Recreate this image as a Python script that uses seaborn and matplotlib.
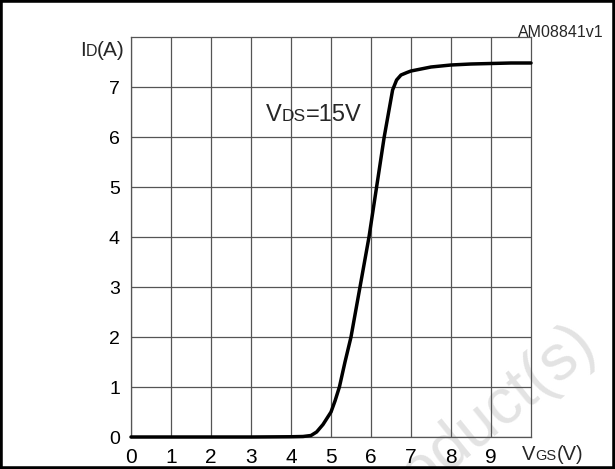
import numpy as np
import pandas as pd
import seaborn as sns
import matplotlib
matplotlib.use("Agg")
from matplotlib import pyplot as plt
from matplotlib.patches import Rectangle

# transfer characteristic
vgs = [0, 1, 2, 3, 4, 4.3, 4.5, 4.64, 4.8, 5.0, 5.1, 5.21, 5.35, 5.5, 5.725, 5.95,
       6.14, 6.33, 6.54, 6.64, 6.75, 6.9, 7.0, 7.5, 8.0, 8.5, 9.0, 9.5, 10.0]
i_d = [0, 0, 0, 0, 0.005, 0.01, 0.03, 0.1, 0.25, 0.5, 0.72, 1.0, 1.5, 2.0, 3.0, 4.0,
       5.0, 6.0, 6.94, 7.14, 7.24, 7.29, 7.32, 7.4, 7.44, 7.46, 7.47, 7.48, 7.48]
x_ticks = [0, 1, 2, 3, 4, 5, 6, 7, 8, 9]
y_ticks = [0, 1, 2, 3, 4, 5, 6, 7]

df = pd.DataFrame({"VGS": vgs, "ID": i_d})

sns.set_style("white")
plt.rcParams['font.family'] = ['Liberation Sans', 'DejaVu Sans']

fig = plt.figure(figsize=(6.15, 4.69), dpi=100)
ax = fig.add_axes([131 / 615, 32 / 469, 400 / 615, 400 / 469])

sns.lineplot(data=df, x="VGS", y="ID", color="black", linewidth=2.5, ax=ax, zorder=5, clip_on=False)

ax.set_xlim(0, 10)
ax.set_ylim(0, 8)
ax.set_xticks(x_ticks)
ax.set_yticks(y_ticks)
ax.set_xticklabels([str(t) for t in x_ticks], fontsize=15)
ax.set_yticklabels([str(t) for t in y_ticks], fontsize=14)
ax.tick_params(axis="both", length=0, colors="black")
ax.tick_params(axis="x", pad=8)
ax.tick_params(axis="y", pad=8)
ax.set_xlabel("")
ax.set_ylabel("")
ax.grid(True, color="#555555", linewidth=0.9)
for s in ax.spines.values():
    s.set_color("#555555")
    s.set_linewidth(0.9)

# faded watermark
ax.text(588 / 615, 1 - 338 / 469, "Obsolete Product(s)", transform=fig.transFigure,
        fontsize=46, color="#e3e3e3", rotation=39, rotation_mode="anchor",
        ha="right", va="center", zorder=0)

renderer = fig.canvas.get_renderer()


def sub_label(x, y, parts):
    # pieces of different size that share one baseline, like the datasheet
    for txt, size in parts:
        t = fig.text(x, y, txt, fontsize=size, ha="left", va="baseline")
        bb = t.get_window_extent(renderer)
        x = fig.transFigure.inverted().transform((bb.x1, bb.y0))[0]


sub_label(80 / 615, 1 - 56 / 469, [("I", 15), ("D", 11.5), ("(A)", 15)])
sub_label(266 / 615, 1 - 121 / 469, [("V", 17), ("DS", 12.5), ("=15V", 17)])
sub_label(522 / 615, 1 - 460 / 469, [("V", 14.5), ("GS", 10.5), ("(V)", 14.5)])

fig.text(604 / 615, 1 - 37 / 469, "AM08841v1", fontsize=11.5, ha="right", va="baseline")

fig.patches.append(Rectangle((0, 0), 1, 1, transform=fig.transFigure, fill=False,
                             edgecolor="black", linewidth=4, zorder=10))

fig.savefig("out.png", dpi=100)
